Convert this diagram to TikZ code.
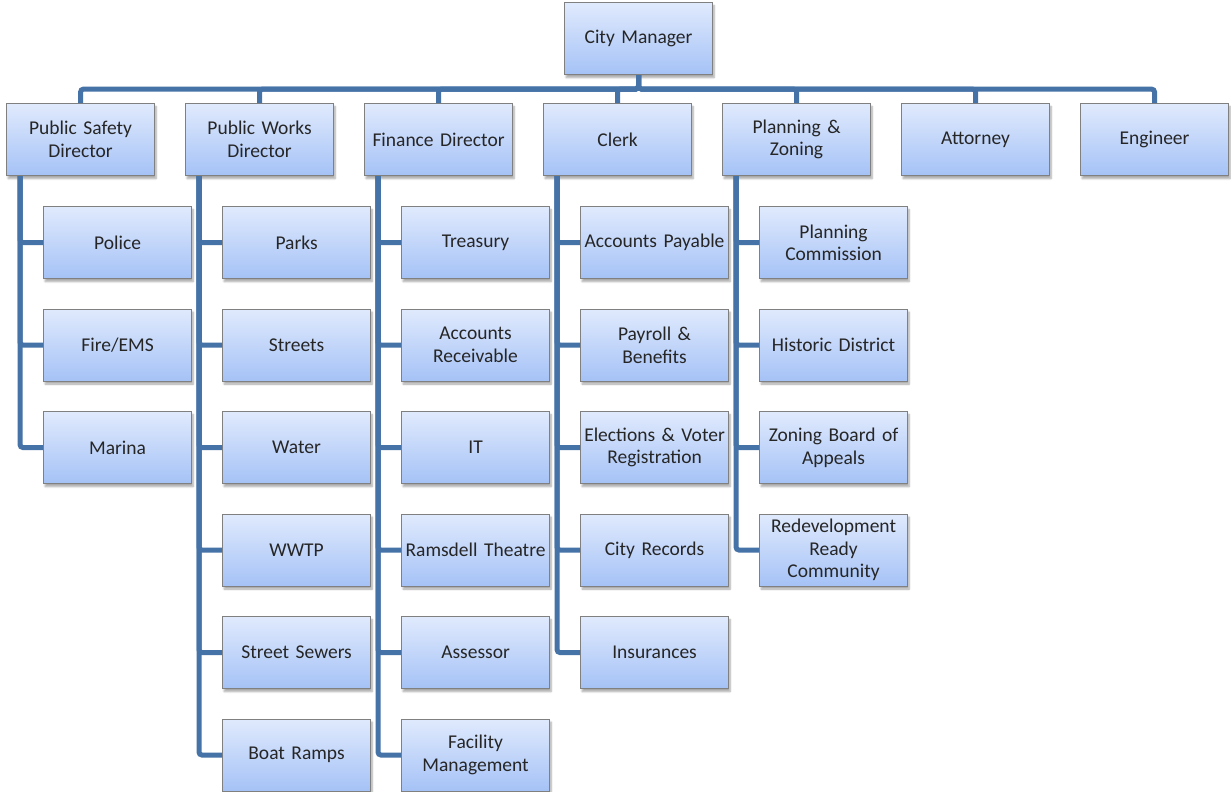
\documentclass[tikz,border=0pt]{standalone}
\usepackage{fontspec}
\setmainfont{Carlito}
\usetikzlibrary{shadows.blur}
\definecolor{conncol}{RGB}{69,114,167}
\definecolor{boxtop}{RGB}{224,234,253}
\definecolor{boxbot}{RGB}{165,194,246}
\definecolor{boxline}{RGB}{128,128,128}
\definecolor{txtcol}{RGB}{38,38,38}
\tikzset{
  orgbox/.style={draw=boxline, line width=1.1pt, top color=boxtop, bottom color=boxbot,
    minimum width=148pt, minimum height=72pt, inner sep=0pt, text width=148pt, align=center,
    anchor=north west, text=txtcol, font=\fontsize{19.5}{22.5}\selectfont,
    blur shadow={shadow xshift=1.5pt, shadow yshift=-3pt, shadow blur steps=6, shadow opacity=35}},
  conn/.style={draw=conncol, line width=5pt, rounded corners=3pt}
}
\begin{document}
\begin{tikzpicture}[x=1pt,y=-1pt]
\useasboundingbox (0,0) rectangle (1231,792);
% top
\node[orgbox] (cm) at (564,2) {City Manager};
% level 1
\node[orgbox] (ps) at (6,103) {Public Safety\\Director};
\node[orgbox] (pw) at (185,103) {Public Works\\Director};
\node[orgbox] (fd) at (364,103) {Finance Director};
\node[orgbox] (cl) at (543,103) {Clerk};
\node[orgbox] (pz) at (722,103) {Planning \&\\Zoning};
\node[orgbox] (at) at (901,103) {Attorney};
\node[orgbox] (en) at (1080,103) {Engineer};
% public safety
\node[orgbox] (police) at (43,206) {Police};
\node[orgbox] (fire) at (43,308.5) {Fire/EMS};
\node[orgbox] (marina) at (43,411) {Marina};
% public works
\node[orgbox] (parks) at (222,206) {Parks};
\node[orgbox] (streets) at (222,308.5) {Streets};
\node[orgbox] (water) at (222,411) {Water};
\node[orgbox] (wwtp) at (222,513.5) {WWTP};
\node[orgbox] (sewers) at (222,616) {Street Sewers};
\node[orgbox] (boat) at (222,718.5) {Boat Ramps};
% finance
\node[orgbox] (treas) at (401,206) {Treasury};
\node[orgbox] (ar) at (401,308.5) {Accounts\\Receivable};
\node[orgbox] (it) at (401,411) {IT};
\node[orgbox] (rams) at (401,513.5) {Ramsdell Theatre};
\node[orgbox] (assess) at (401,616) {Assessor};
\node[orgbox] (facil) at (401,718.5) {Facility\\Management};
% clerk
\node[orgbox] (ap) at (580,206) {Accounts Payable};
\node[orgbox] (pay) at (580,308.5) {Payroll \&\\Benefits};
\node[orgbox] (elect) at (580,411) {Elections \& Voter\\Registration};
\node[orgbox] (recs) at (580,513.5) {City Records};
\node[orgbox] (ins) at (580,616) {Insurances};
% planning
\node[orgbox] (pc) at (759,206) {Planning\\Commission};
\node[orgbox] (hd) at (759,308.5) {Historic District};
\node[orgbox] (zba) at (759,411) {Zoning Board of\\Appeals};
\node[orgbox] (rrc) at (759,513.5) {Redevelopment\\Ready\\Community};
% connectors top
\foreach \n in {ps,pw,fd,cl,pz,at,en}
  \draw[conn] (cm.south) -- ++(0,14) -| (\n.north);
% connectors children
\foreach \p/\c in {ps/police,ps/fire,ps/marina,
  pw/parks,pw/streets,pw/water,pw/wwtp,pw/sewers,pw/boat,
  fd/treas,fd/ar,fd/it,fd/rams,fd/assess,fd/facil,
  cl/ap,cl/pay,cl/elect,cl/recs,cl/ins,
  pz/pc,pz/hd,pz/zba,pz/rrc}
  \draw[conn] ([xshift=14pt]\p.south west) |- (\c.west);
\end{tikzpicture}
\end{document}
